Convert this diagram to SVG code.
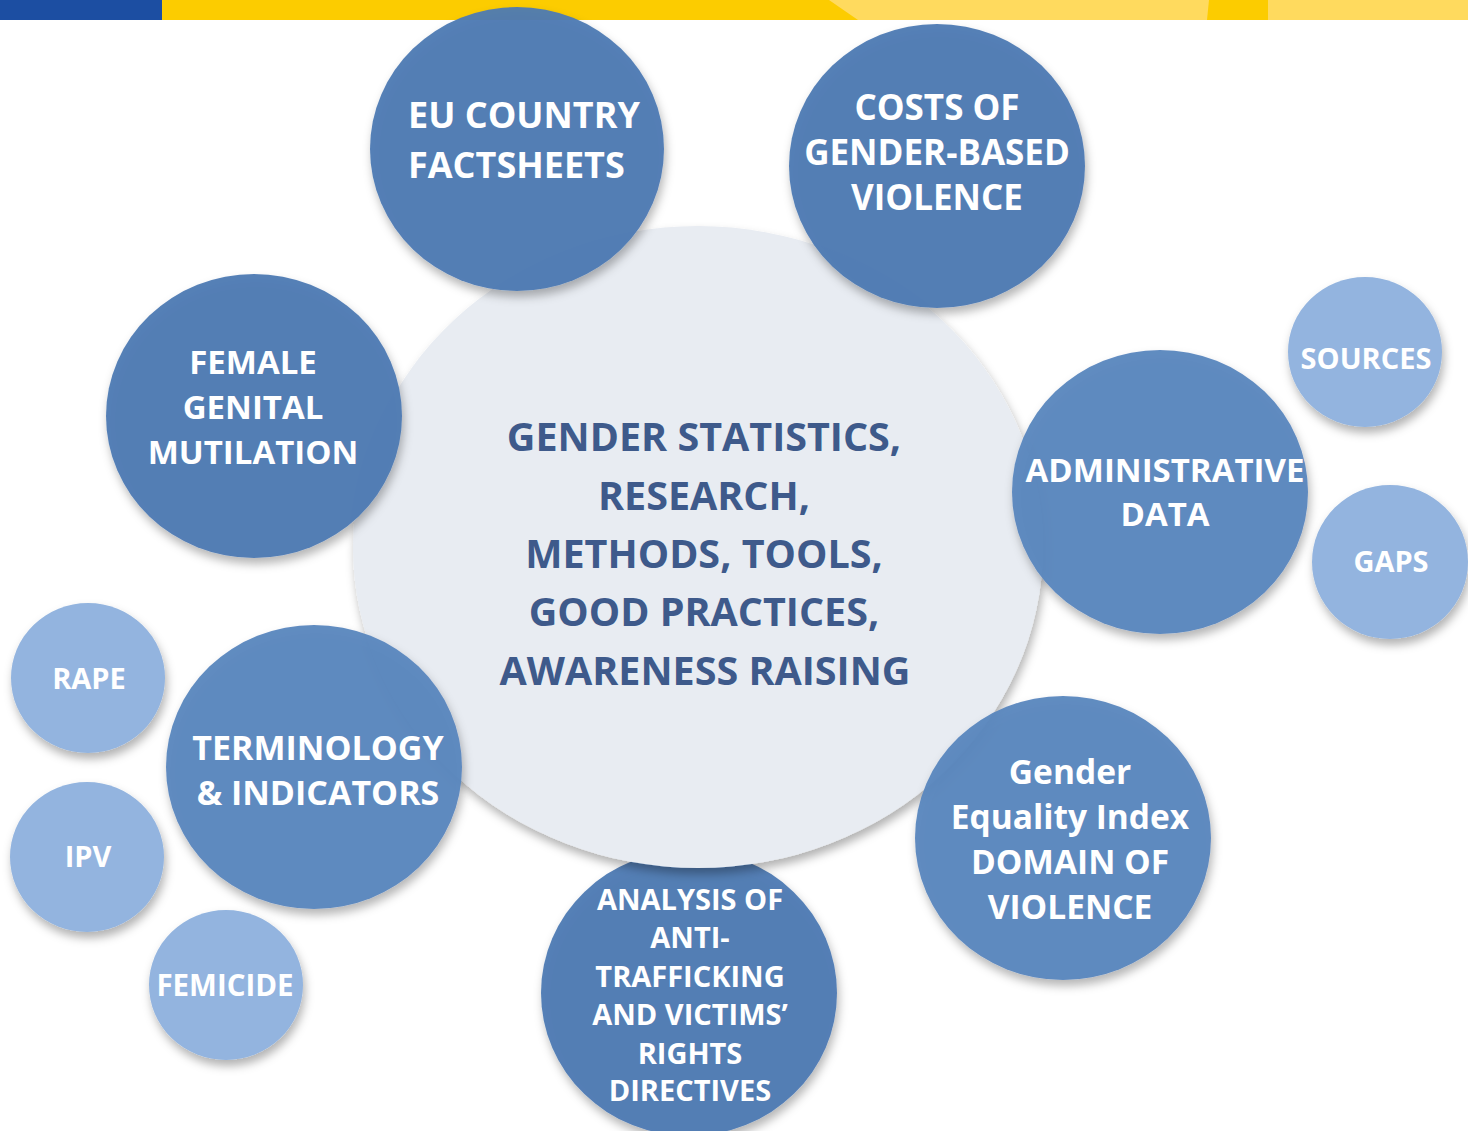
<svg xmlns="http://www.w3.org/2000/svg" width="1468" height="1131" viewBox="0 0 1468 1131">
  <style>
    .dark { fill: #4E7AB3; fill-opacity: 0.95; }
    .mid { fill: #5A86BE; fill-opacity: 0.95; }
    .light { fill: #93B4DF; }
    .hub { fill: #E8ECF2; }
    .wt { font-family: "Open Sans", "Liberation Sans", sans-serif; font-weight: 700; fill: #FFFFFF; text-anchor: middle; }
    .ct { font-family: "Open Sans", "Liberation Sans", sans-serif; font-weight: 700; fill: #3E5A8B; text-anchor: middle; font-size: 39.5px; }
  </style>
  <defs>
    <filter id="sh" x="-20%" y="-20%" width="140%" height="140%">
      <feDropShadow dx="2" dy="6" stdDeviation="5" flood-color="#000" flood-opacity="0.3"/>
    </filter>
  </defs>
  <rect width="1468" height="1131" fill="#FFFFFF"/>
  <g id="topbar">
    <rect x="0" y="0" width="162" height="20" fill="#1C4EA2"/>
    <rect x="162" y="0" width="700" height="20" fill="#FCCC00"/>
    <polygon points="829,0 1468,0 1468,20 858,20" fill="#FFDA5E"/>
    <polygon points="1209,0 1268,0 1268,20 1207,20" fill="#FCCC00"/>
  </g>
  <g id="connectors"></g>
  <g id="node-analysis">
    <ellipse class="dark" cx="689" cy="993" rx="148" ry="143" filter="url(#sh)"/>
  </g>
  <g id="node-center">
    <ellipse class="hub" cx="698" cy="547" rx="345" ry="321" filter="url(#sh)"/>
    <text class="ct" x="704" y="451">GENDER STATISTICS,</text>
    <text class="ct" x="704" y="510">RESEARCH,</text>
    <text class="ct" x="704" y="568">METHODS, TOOLS,</text>
    <text class="ct" x="704" y="626">GOOD PRACTICES,</text>
    <text class="ct" x="705" y="685">AWARENESS RAISING</text>
  </g>
  <g id="node-analysis-text">
    <text class="wt" font-size="29" x="690" y="910">ANALYSIS OF</text>
    <text class="wt" font-size="29" x="690" y="948">ANTI-</text>
    <text class="wt" font-size="29" x="690" y="987">TRAFFICKING</text>
    <text class="wt" font-size="29" x="690" y="1025">AND VICTIMS’</text>
    <text class="wt" font-size="29" x="690" y="1064">RIGHTS</text>
    <text class="wt" font-size="29" x="690" y="1101">DIRECTIVES</text>
  </g>
  <g id="node-eu">
    <ellipse class="dark" cx="517" cy="149" rx="147" ry="142" filter="url(#sh)"/>
    <text class="wt" font-size="36" x="408" y="128" style="text-anchor:start">EU COUNTRY</text>
    <text class="wt" font-size="36" x="408" y="178" style="text-anchor:start">FACTSHEETS</text>
  </g>
  <g id="node-costs">
    <ellipse class="dark" cx="937" cy="166" rx="148" ry="142" filter="url(#sh)"/>
    <text class="wt" font-size="35" x="937" y="120">COSTS OF</text>
    <text class="wt" font-size="35" x="937" y="165">GENDER-BASED</text>
    <text class="wt" font-size="35" x="937" y="210">VIOLENCE</text>
  </g>
  <g id="node-fgm">
    <ellipse class="dark" cx="254" cy="416" rx="148" ry="142" filter="url(#sh)"/>
    <text class="wt" font-size="33" x="253" y="374">FEMALE</text>
    <text class="wt" font-size="33" x="253" y="419">GENITAL</text>
    <text class="wt" font-size="33" x="253" y="464">MUTILATION</text>
  </g>
  <g id="node-admin">
    <ellipse class="mid" cx="1160" cy="492" rx="148" ry="142" filter="url(#sh)"/>
    <text class="wt" font-size="33" x="1165" y="482">ADMINISTRATIVE</text>
    <text class="wt" font-size="33" x="1165" y="526">DATA</text>
  </g>
  <g id="node-gei">
    <ellipse class="mid" cx="1063" cy="838" rx="148" ry="142" filter="url(#sh)"/>
    <text class="wt" font-size="33.5" x="1070" y="784">Gender</text>
    <text class="wt" font-size="33.5" x="1070" y="829">Equality Index</text>
    <text class="wt" font-size="33.5" x="1070" y="874">DOMAIN OF</text>
    <text class="wt" font-size="33.5" x="1070" y="919">VIOLENCE</text>
  </g>
  <g id="node-terminology">
    <ellipse class="mid" cx="314" cy="767" rx="148" ry="142" filter="url(#sh)"/>
    <text class="wt" font-size="34" x="318" y="760">TERMINOLOGY</text>
    <text class="wt" font-size="34" x="318" y="805">&amp; INDICATORS</text>
  </g>
  <g id="node-sources">
    <ellipse class="light" cx="1365" cy="352" rx="77" ry="75" filter="url(#sh)"/>
    <text class="wt" font-size="29" x="1366" y="369">SOURCES</text>
  </g>
  <g id="node-gaps">
    <ellipse class="light" cx="1390" cy="562" rx="78" ry="77" filter="url(#sh)"/>
    <text class="wt" font-size="29" x="1391" y="572">GAPS</text>
  </g>
  <g id="node-rape">
    <ellipse class="light" cx="88" cy="678" rx="77" ry="75" filter="url(#sh)"/>
    <text class="wt" font-size="29" x="89" y="689">RAPE</text>
  </g>
  <g id="node-ipv">
    <ellipse class="light" cx="87" cy="857" rx="77" ry="75" filter="url(#sh)"/>
    <text class="wt" font-size="29" x="88" y="867">IPV</text>
  </g>
  <g id="node-femicide">
    <ellipse class="light" cx="226" cy="985" rx="77" ry="75" filter="url(#sh)"/>
    <text class="wt" font-size="29.5" x="225" y="996">FEMICIDE</text>
  </g>
</svg>
